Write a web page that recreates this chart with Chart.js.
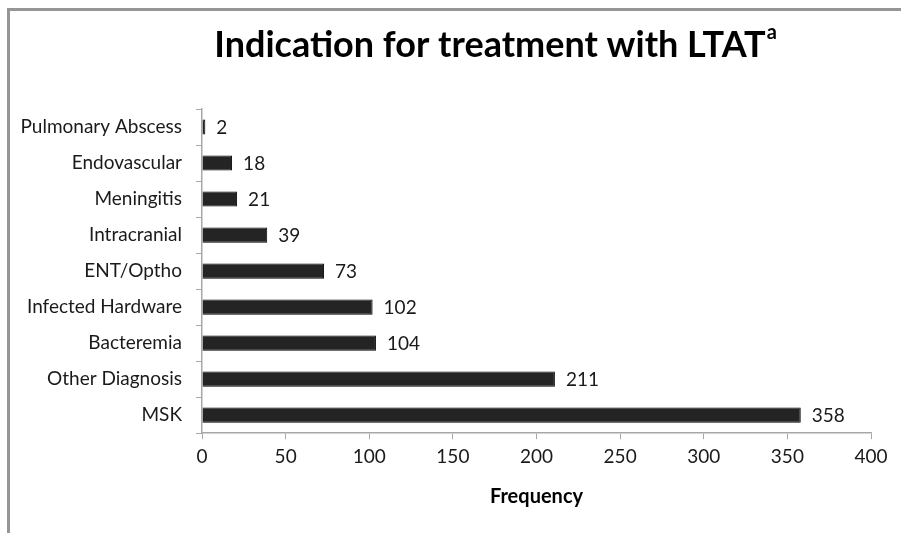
<!DOCTYPE html>
<html>
<head>
<meta charset="utf-8">
<script src="https://cdn.jsdelivr.net/npm/chart.js@4"></script>
<style>
    html, body { margin: 0; padding: 0; background: #fff; overflow: hidden; }
    #wrap { position: absolute; left: 0; top: 0; width: 901px; height: 533px; }
    #frame {
        position: absolute; left: 7px; top: 8px; width: 1000px; height: 700px;
        border-top: 3px solid #959595; border-left: 3px solid #959595;
        pointer-events: none;
    }
</style>
</head>
<body>
<div id="wrap"><canvas id="chart" width="901" height="533"></canvas></div>
<div id="frame"></div>
<script>
// Data
const categories = ['Pulmonary Abscess', 'Endovascular', 'Meningitis', 'Intracranial', 'ENT/Optho',
    'Infected Hardware', 'Bacteremia', 'Other Diagnosis', 'MSK'];
const frequency = [2, 18, 21, 39, 73, 102, 104, 211, 358];
const xTicks = [0, 50, 100, 150, 200, 250, 300, 350, 400];
const titleText = 'Indication for treatment with LTAT';
const titleSup = 'a';

const FONT = 'Lato, "Open Sans", sans-serif';

// Draws title (with superscript) and the value labels next to bars
const labelsPlugin = {
    id: 'labels',
    afterDatasetsDraw(chart) {
        const ctx = chart.ctx;
        ctx.save();
        ctx.fillStyle = '#1a1a1a';
        ctx.font = '19px ' + FONT;
        ctx.textAlign = 'left';
        ctx.textBaseline = 'middle';
        const meta = chart.getDatasetMeta(0);
        meta.data.forEach((bar, i) => {
            ctx.fillText(String(frequency[i]), bar.x + 11, bar.y + 1);
        });

        // title
        ctx.font = 'bold 36px ' + FONT;
        ctx.textAlign = 'center';
        ctx.textBaseline = 'alphabetic';
        ctx.fillStyle = '#000';
        const cx = 490;
        ctx.fillText(titleText, cx, 57);
        const w = ctx.measureText(titleText).width;
        ctx.font = 'bold 20px ' + FONT;
        ctx.textAlign = 'left';
        ctx.fillText(titleSup, cx + w / 2 + 1, 39);
        ctx.restore();
    }
};

new Chart(document.getElementById('chart').getContext('2d'), {
    type: 'bar',
    data: {
        labels: categories,
        datasets: [{
            data: frequency,
            backgroundColor: '#242424',
            borderColor: '#000',
            borderWidth: 1,
            barPercentage: 0.42,
            categoryPercentage: 1
        }]
    },
    options: {
        indexAxis: 'y',
        responsive: false,
        animation: false,
        layout: {
            padding: { top: 109, right: 30, bottom: 24, left: 0 }
        },
        plugins: {
            legend: { display: false },
            title: { display: false },
            tooltip: { enabled: false }
        },
        scales: {
            y: {
                grid: { drawOnChartArea: false, color: '#a8a8a8', tickLength: 6 },
                border: { color: '#a8a8a8', width: 1.5 },
                ticks: { color: '#1a1a1a', font: { family: FONT, size: 19 }, padding: 14 },
                afterFit(scale) { scale.width = 202; }
            },
            x: {
                min: 0,
                max: 400,
                afterBuildTicks(scale) { scale.ticks = xTicks.map(v => ({ value: v })); },
                grid: { drawOnChartArea: false, color: '#a8a8a8', tickLength: 6 },
                border: { color: '#a8a8a8', width: 1.5 },
                ticks: { color: '#1a1a1a', font: { family: FONT, size: 19 }, padding: 6, maxRotation: 0 },
                title: {
                    display: true,
                    text: 'Frequency',
                    color: '#000',
                    font: { family: FONT, size: 20, weight: 'bold' },
                    padding: { top: 11, bottom: 0 }
                }
            }
        }
    },
    plugins: [labelsPlugin]
});
</script>
</body>
</html>
